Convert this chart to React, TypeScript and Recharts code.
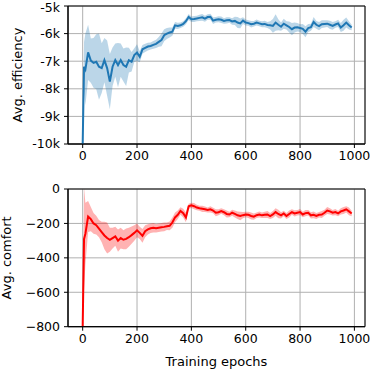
import { ComposedChart, Area, Line, XAxis, YAxis, CartesianGrid, ReferenceArea, Label } from 'recharts';

// training epochs sampled along the x axis
const epochs = [
  0, 5, 10, 20, 30, 40, 50, 60, 70, 80, 90, 100, 110, 120, 130, 140, 150, 160, 170, 180, 190,
  200, 210, 220, 230, 240, 250, 260, 270, 280, 290, 300, 310, 320, 330, 340, 350, 360, 370, 380, 390,
  400, 410, 420, 430, 440, 450, 460, 470, 480, 490, 500, 510, 520, 530, 540, 550, 560, 570, 580, 590,
  600, 610, 620, 630, 640, 650, 660, 670, 680, 690, 700, 710, 720, 730, 740, 750, 760, 770, 780, 790,
  800, 810, 820, 830, 840, 850, 860, 870, 880, 890, 900, 910, 920, 930, 940, 950, 960, 970, 980, 990,
];

const efficiencyMean = [
  -10000, -7200, -7300, -6680, -6980, -7060, -7020, -7200, -7250, -6960, -7250, -7740, -7200, -6960, -7140, -6960, -7140, -7200, -6960, -7020, -6780,
  -6690, -6840, -6570, -6520, -6470, -6450, -6410, -6370, -6300, -6230, -6060, -6000, -5960, -5930, -5700, -5720, -5700, -5650, -5550, -5400,
  -5480, -5470, -5450, -5430, -5410, -5460, -5400, -5390, -5530, -5500, -5480, -5500, -5540, -5520, -5510, -5560, -5540, -5600, -5630, -5530,
  -5600, -5620, -5660, -5640, -5600, -5630, -5660, -5650, -5690, -5700, -5720, -5600, -5680, -5750, -5640, -5700, -5760, -5840, -5780, -5770,
  -5800, -5830, -5930, -5800, -5770, -5580, -5680, -5730, -5660, -5650, -5640, -5680, -5720, -5670, -5630, -5780, -5700, -5600, -5700, -5780,
];

const efficiencySpread = [
  0, 900, 1300, 1000, 800, 900, 1000, 1200, 900, 800, 1000, 1000, 700, 600, 800, 600, 600, 700, 450, 350, 250,
  300, 200, 160, 150, 140, 130, 140, 150, 180, 230, 220, 200, 180, 150, 120, 110, 100, 100, 110, 110,
  100, 110, 100, 110, 120, 110, 100, 110, 120, 100, 110, 120, 100, 110, 100, 120, 150, 200, 180, 120,
  110, 100, 120, 100, 110, 100, 110, 120, 110, 150, 250, 300, 200, 150, 180, 150, 200, 220, 180, 150,
  140, 180, 200, 150, 130, 180, 140, 150, 140, 130, 120, 150, 140, 120, 130, 160, 200, 180, 150, 100,
];

const comfortMean = [
  -800, -290, -260, -160, -175, -200, -210, -230, -250, -270, -285, -295, -285, -275, -300, -285, -295, -290, -280, -268, -255,
  -240, -255, -272, -245, -235, -228, -225, -228, -225, -222, -220, -216, -214, -195, -165, -150, -128, -140, -165, -100,
  -95, -100, -108, -112, -115, -118, -122, -118, -125, -138, -135, -128, -135, -145, -148, -138, -145, -153, -157, -152,
  -148, -150, -157, -161, -152, -148, -153, -150, -148, -157, -148, -134, -145, -153, -142, -157, -145, -134, -142, -138,
  -134, -148, -140, -138, -153, -150, -157, -150, -148, -138, -125, -130, -138, -134, -142, -130, -125, -118, -130, -142,
];

const comfortSpread = [
  0, 300, 180, 90, 70, 60, 55, 50, 60, 80, 90, 70, 60, 55, 65, 60, 55, 60, 55, 50, 45,
  40, 35, 40, 35, 30, 28, 28, 25, 25, 25, 25, 22, 25, 30, 28, 25, 22, 25, 28, 15,
  15, 18, 16, 15, 18, 16, 15, 18, 16, 20, 18, 16, 18, 20, 16, 18, 20, 22, 25, 18,
  16, 18, 20, 18, 16, 18, 16, 18, 20, 18, 20, 22, 25, 18, 16, 18, 20, 16, 18, 16,
  18, 16, 18, 16, 18, 20, 18, 16, 20, 18, 20, 18, 16, 18, 16, 18, 20, 18, 22, 16,
];

const xTicks = [0, 200, 400, 600, 800, 1000];
const efficiencyTicks = [-10000, -9000, -8000, -7000, -6000, -5000];
const comfortTicks = [-800, -600, -400, -200, 0];

const topData = epochs.map((e, i) => ({
  epoch: e,
  mean: efficiencyMean[i],
  band: [efficiencyMean[i] - efficiencySpread[i], efficiencyMean[i] + efficiencySpread[i]],
}));

const bottomData = epochs.map((e, i) => ({
  epoch: e,
  mean: comfortMean[i],
  band: [comfortMean[i] - comfortSpread[i], comfortMean[i] + comfortSpread[i]],
}));

const FONT = 'DejaVu Sans, sans-serif';
const tickStyle = { fill: '#000', fontSize: 12.5, fontFamily: FONT };
const LABEL_SIZE = 13;
const X_DOMAIN: [number, number] = [-54, 1039];

const yLabel = (text: string, x: number) => (props: any) => {
  const vb = props.viewBox || {};
  const cy = vb.y + vb.height / 2;
  return (
    <text
      x={x}
      y={cy}
      transform={`rotate(-90 ${x} ${cy})`}
      textAnchor="middle"
      dominantBaseline="central"
      fill="#000"
      fontSize={LABEL_SIZE}
      fontFamily={FONT}
    >
      {text}
    </text>
  );
};

// x label drawn from the axis box so its baseline sits just above the bottom edge
const xLabel = (text: string) => (props: any) => {
  const vb = props.viewBox || {};
  const cx = vb.x + vb.width / 2;
  const by = vb.y + vb.height - 4.5;
  return (
    <text x={cx} y={by} textAnchor="middle" fill="#000" fontSize={LABEL_SIZE} fontFamily={FONT}>
      {text}
    </text>
  );
};

const fmtK = (v: number) => `${v / 1000}k`;
const fmtMinus = (v: number) => (v < 0 ? `\u2212${Math.abs(v)}` : `${v}`);

export default function App() {
  return (
    <div style={{ position: 'absolute', left: 0, top: 0, width: 371, height: 370, background: '#fff', fontFamily: FONT }}>
      <div style={{ position: 'absolute', left: 0, top: 0 }}>
        <ComposedChart width={371} height={174} data={topData} margin={{ top: 6, right: 6, bottom: 0, left: 0 }}>
          <CartesianGrid stroke="#b0b0b0" strokeWidth={1} />
          <XAxis
            dataKey="epoch"
            type="number"
            domain={X_DOMAIN}
            ticks={xTicks}
            allowDataOverflow
            height={30}
            tick={tickStyle}
            tickSize={4}
            tickMargin={3}
            stroke="#000"
          />
          <YAxis
            type="number"
            domain={[-10000, -5000]}
            ticks={efficiencyTicks}
            allowDataOverflow
            width={68}
            tick={tickStyle}
            tickFormatter={fmtK}
            tickSize={4}
            tickMargin={4}
            stroke="#000"
          >
            <Label content={yLabel('Avg. efficiency', 17)} />
          </YAxis>
          <Area dataKey="band" stroke="none" fill="#1f77b4" fillOpacity={0.3} isAnimationActive={false} />
          <Line dataKey="mean" type="linear" stroke="#1f77b4" strokeWidth={2} dot={false} isAnimationActive={false} />
          <ReferenceArea x1={X_DOMAIN[0]} x2={X_DOMAIN[1]} y1={-10000} y2={-5000} fill="none" stroke="#000" strokeWidth={1} ifOverflow="visible" />
        </ComposedChart>
      </div>
      <div style={{ position: 'absolute', left: 0, top: 180 }}>
        <ComposedChart width={371} height={190} data={bottomData} margin={{ top: 9, right: 6, bottom: 0, left: 0 }}>
          <CartesianGrid stroke="#b0b0b0" strokeWidth={1} />
          <XAxis
            dataKey="epoch"
            type="number"
            domain={X_DOMAIN}
            ticks={xTicks}
            allowDataOverflow
            height={43.3}
            tick={tickStyle}
            tickSize={4}
            tickMargin={3}
            stroke="#000"
          >
            <Label content={xLabel('Training epochs')} />
          </XAxis>
          <YAxis
            type="number"
            domain={[-800, 0]}
            ticks={comfortTicks}
            allowDataOverflow
            width={68}
            tick={tickStyle}
            tickFormatter={fmtMinus}
            tickSize={4}
            tickMargin={4}
            stroke="#000"
          >
            <Label content={yLabel('Avg. comfort', 7)} />
          </YAxis>
          <Area dataKey="band" stroke="none" fill="#ff0000" fillOpacity={0.3} isAnimationActive={false} />
          <Line dataKey="mean" type="linear" stroke="#ff0000" strokeWidth={2} dot={false} isAnimationActive={false} />
          <ReferenceArea x1={X_DOMAIN[0]} x2={X_DOMAIN[1]} y1={-800} y2={0} fill="none" stroke="#000" strokeWidth={1} ifOverflow="visible" />
        </ComposedChart>
      </div>
    </div>
  );
}
